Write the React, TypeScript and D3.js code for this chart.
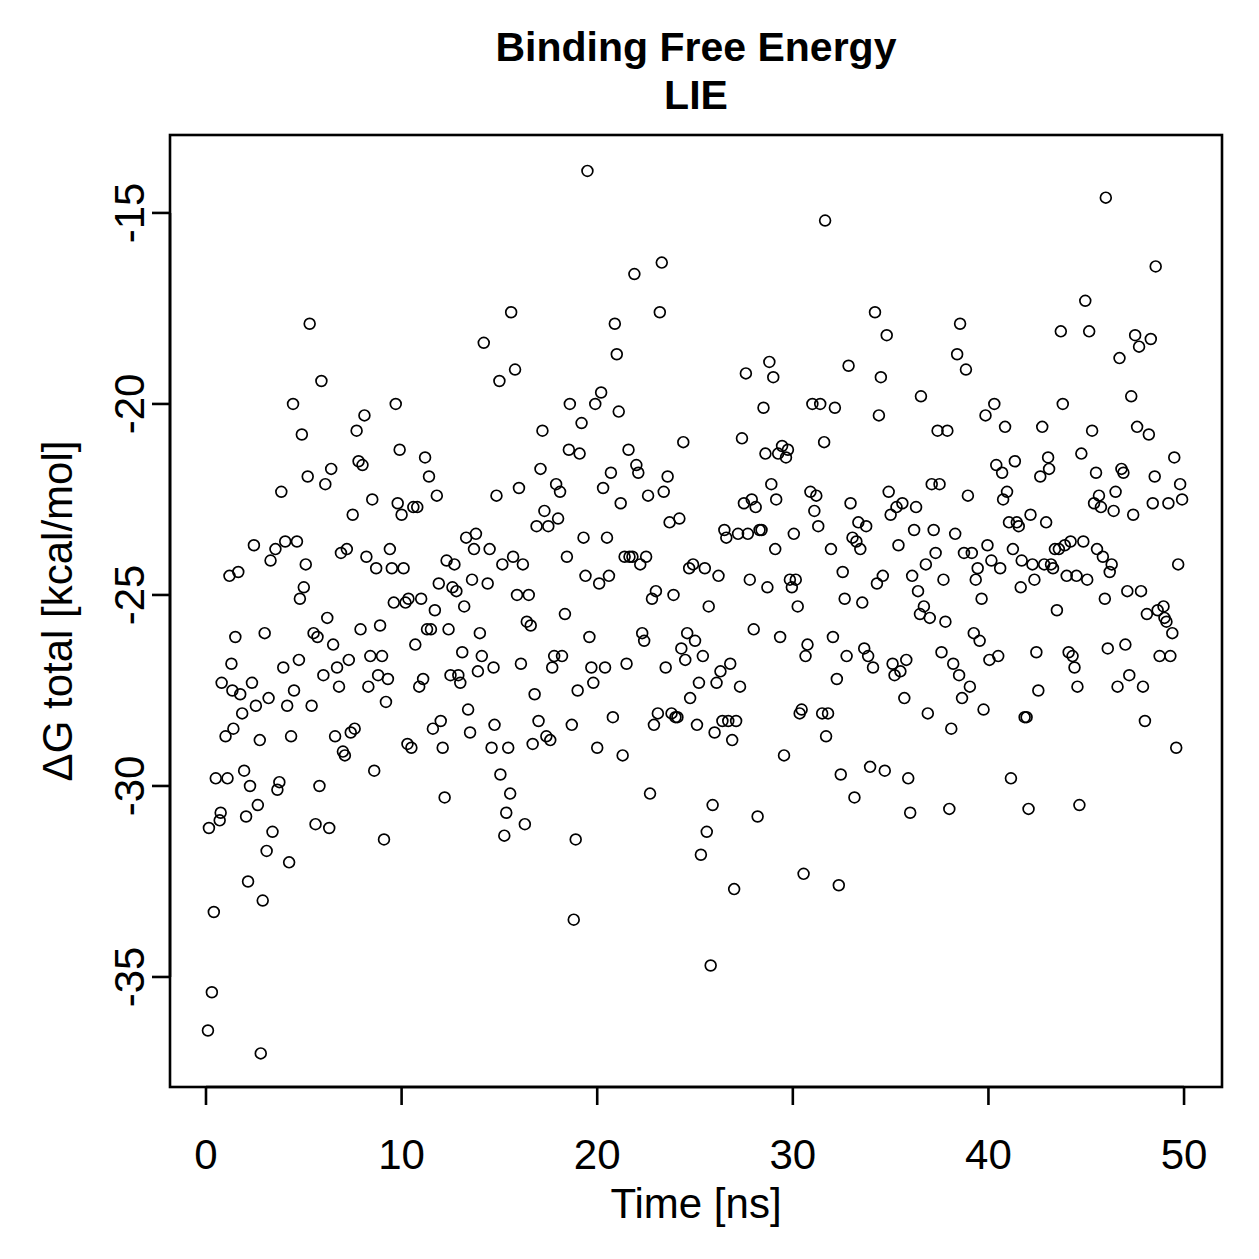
import React from 'react'
import { scaleLinear } from 'd3'

// simulation time [ns]
const timeNs = [
  0.1, 0.3, 0.4, 0.15, 0.5, 0.7, 0.75, 0.8, 1.0, 1.1, 1.2, 1.3, 1.35, 1.4, 1.5, 1.65, 1.75, 1.85, 1.95, 2.05,
  2.15, 2.25, 2.35, 2.45, 2.55, 2.65, 2.75, 2.8, 2.9, 3.0, 3.1, 3.2, 3.3, 3.4, 3.55, 3.65, 3.75, 3.85, 3.95, 4.05,
  4.15, 4.25, 4.35, 4.45, 4.5, 4.65, 4.75, 4.8, 4.9, 5.0, 5.1, 5.2, 5.3, 5.4, 5.5, 5.6, 5.7, 5.8, 5.9, 6.0,
  6.1, 6.2, 6.3, 6.4, 6.5, 6.6, 6.7, 6.8, 6.9, 7.0, 7.1, 7.2, 7.3, 7.4, 7.5, 7.6, 7.7, 7.8, 7.9, 8.0,
  8.1, 8.2, 8.3, 8.4, 8.5, 8.6, 8.7, 8.8, 8.9, 9.0, 9.1, 9.2, 9.3, 9.4, 9.5, 9.6, 9.7, 9.8, 9.9, 10.0,
  10.1, 10.2, 10.3, 10.35, 10.5, 10.6, 10.7, 10.8, 10.9, 11.0, 11.1, 11.2, 11.3, 11.4, 11.5, 11.6, 11.7, 11.8, 11.9, 12.0,
  12.1, 12.2, 12.3, 12.4, 12.5, 12.6, 12.7, 12.8, 12.9, 13.0, 13.1, 13.2, 13.3, 13.4, 13.5, 13.6, 13.7, 13.8, 13.9, 14.0,
  14.1, 14.2, 14.4, 14.5, 14.6, 14.7, 14.75, 14.85, 15.0, 15.05, 15.15, 15.25, 15.35, 15.45, 15.55, 15.6, 15.7, 15.8, 15.9, 16.0,
  16.1, 16.2, 16.3, 16.4, 16.5, 16.6, 16.7, 16.8, 16.9, 17.0, 17.1, 17.2, 17.3, 17.4, 17.5, 17.6, 17.7, 17.8, 17.9, 18.0,
  18.1, 18.2, 18.35, 18.45, 18.55, 18.6, 18.7, 18.8, 18.9, 19.0, 19.1, 19.2, 19.3, 19.4, 19.5, 19.6, 19.7, 19.8, 19.9, 20.0,
  20.1, 20.2, 20.3, 20.4, 20.5, 20.6, 20.7, 20.8, 20.9, 21.0, 21.1, 21.2, 21.3, 21.4, 21.5, 21.6, 21.65, 21.8, 21.9, 22.0,
  22.1, 22.2, 22.3, 22.4, 22.5, 22.6, 22.7, 22.8, 22.9, 23.0, 23.1, 23.2, 23.3, 23.4, 23.5, 23.6, 23.7, 23.8, 23.9, 24.0,
  24.1, 24.2, 24.3, 24.4, 24.5, 24.6, 24.7, 24.75, 24.9, 25.0, 25.1, 25.2, 25.3, 25.4, 25.5, 25.6, 25.7, 25.8, 25.9, 26.0,
  26.1, 26.2, 26.3, 26.4, 26.5, 26.6, 26.7, 26.8, 26.9, 27.0, 27.1, 27.2, 27.3, 27.4, 27.5, 27.6, 27.7, 27.8, 27.9, 28.0,
  28.1, 28.2, 28.3, 28.4, 28.5, 28.6, 28.7, 28.8, 28.9, 29.0, 29.1, 29.15, 29.25, 29.35, 29.45, 29.55, 29.65, 29.75, 29.85, 29.95,
  30.05, 30.15, 30.25, 30.35, 30.45, 30.55, 30.65, 30.75, 30.9, 31.0, 31.1, 31.2, 31.3, 31.4, 31.5, 31.6, 31.65, 31.7, 31.8, 31.95,
  32.05, 32.15, 32.25, 32.35, 32.45, 32.55, 32.65, 32.75, 32.85, 32.95, 33.05, 33.15, 33.25, 33.35, 33.45, 33.55, 33.65, 33.75, 33.85, 33.95,
  34.1, 34.2, 34.3, 34.4, 34.5, 34.6, 34.7, 34.8, 34.9, 35.0, 35.1, 35.2, 35.3, 35.4, 35.5, 35.6, 35.7, 35.8, 35.9, 36.0,
  36.1, 36.2, 36.3, 36.4, 36.5, 36.55, 36.7, 36.8, 36.9, 37.0, 37.1, 37.2, 37.3, 37.4, 37.5, 37.6, 37.7, 37.8, 37.9, 38.0,
  38.1, 38.2, 38.3, 38.4, 38.5, 38.55, 38.65, 38.75, 38.85, 38.95, 39.05, 39.15, 39.25, 39.35, 39.45, 39.55, 39.65, 39.75, 39.85, 39.95,
  40.05, 40.15, 40.3, 40.4, 40.5, 40.6, 40.7, 40.75, 40.85, 40.95, 41.05, 41.15, 41.25, 41.35, 41.45, 41.55, 41.65, 41.7, 41.85, 41.95,
  42.05, 42.15, 42.25, 42.35, 42.45, 42.55, 42.65, 42.75, 42.85, 42.95, 43.05, 43.1, 43.2, 43.3, 43.4, 43.5, 43.6, 43.7, 43.8, 43.9,
  44.0, 44.1, 44.2, 44.3, 44.4, 44.5, 44.55, 44.65, 44.75, 44.85, 44.95, 45.05, 45.15, 45.3, 45.4, 45.5, 45.55, 45.65, 45.75, 45.85,
  45.95, 46.0, 46.1, 46.2, 46.3, 46.4, 46.5, 46.6, 46.7, 46.8, 46.9, 47.0, 47.1, 47.2, 47.3, 47.4, 47.5, 47.6, 47.7, 47.8,
  47.9, 48.0, 48.1, 48.2, 48.3, 48.4, 48.5, 48.55, 48.65, 48.75, 48.95, 49.0, 49.1, 49.2, 49.3, 49.4, 49.5, 49.6, 49.7, 49.8,
  49.9,
]

// LIE binding free energy [kcal/mol]
const deltaG = [
  -36.4, -35.4, -33.3, -31.1, -29.8, -30.9, -30.7, -27.3, -28.7, -29.8, -24.5, -26.8, -27.5, -28.5, -26.1, -24.4, -27.6, -28.1, -29.6, -30.8,
  -32.5, -30.0, -27.3, -23.7, -27.9, -30.5, -28.8, -37.0, -33.0, -26.0, -31.7, -27.7, -24.1, -31.2, -23.8, -30.1, -29.9, -22.3, -26.9, -23.6,
  -27.9, -32.0, -28.7, -20.0, -27.5, -23.6, -26.7, -25.1, -20.8, -24.8, -24.2, -21.9, -17.9, -27.9, -26.0, -31.0, -26.1, -30.0, -19.4, -27.1,
  -22.1, -25.6, -31.1, -21.7, -26.3, -28.7, -26.9, -27.4, -23.9, -29.1, -29.2, -23.8, -26.7, -28.6, -22.9, -28.5, -20.7, -21.5, -25.9, -21.6,
  -20.3, -24.0, -27.4, -26.6, -22.5, -29.6, -24.3, -27.1, -25.8, -26.6, -31.4, -27.8, -27.2, -23.8, -24.3, -25.2, -20.0, -22.6, -21.2, -22.9,
  -24.3, -25.2, -28.9, -25.1, -29.0, -22.7, -26.3, -22.7, -27.4, -25.1, -27.2, -21.4, -25.9, -21.9, -25.9, -28.5, -25.4, -22.4, -24.7, -28.3,
  -29.0, -30.3, -24.1, -25.9, -27.1, -24.8, -24.2, -24.9, -27.1, -27.3, -26.5, -25.3, -23.5, -28.0, -28.6, -24.6, -23.8, -23.4, -27.0, -26.0,
  -26.6, -18.4, -24.7, -23.8, -29.0, -26.9, -28.4, -22.4, -19.4, -29.7, -24.2, -31.3, -30.7, -29.0, -30.2, -17.6, -24.0, -19.1, -25.0, -22.2,
  -26.8, -24.2, -31.0, -25.7, -25.0, -25.8, -28.9, -27.6, -23.2, -28.3, -21.7, -20.7, -22.8, -28.7, -23.2, -28.8, -26.9, -26.6, -22.1, -23.0,
  -22.3, -26.6, -25.5, -24.0, -21.2, -20.0, -28.4, -33.5, -31.4, -27.5, -21.3, -20.5, -23.5, -24.5, -13.9, -26.1, -26.9, -27.3, -20.0, -29.0,
  -24.7, -19.7, -22.2, -26.9, -23.5, -24.5, -21.8, -28.2, -17.9, -18.7, -20.2, -22.6, -29.2, -24.0, -26.8, -21.2, -24.0, -24.0, -16.6, -21.6,
  -21.8, -24.2, -26.0, -26.2, -24.0, -22.4, -30.2, -25.1, -28.4, -24.9, -28.1, -17.6, -16.3, -22.3, -26.9, -21.9, -23.1, -28.1, -25.0, -28.2,
  -28.2, -23.0, -26.4, -21.0, -26.7, -26.0, -24.3, -27.7, -24.2, -26.2, -28.4, -27.3, -31.8, -26.6, -24.3, -31.2, -25.3, -34.7, -30.5, -28.6,
  -27.3, -24.5, -27.0, -28.3, -23.3, -23.5, -28.3, -26.8, -28.8, -32.7, -28.3, -23.4, -27.4, -20.9, -22.6, -19.2, -23.4, -24.6, -22.5, -25.9,
  -22.7, -30.8, -23.3, -23.3, -20.1, -21.3, -24.8, -18.9, -22.1, -19.3, -23.8, -22.5, -21.3, -26.1, -21.1, -29.2, -21.4, -21.2, -24.6, -24.8,
  -23.4, -24.6, -25.3, -28.1, -28.0, -32.3, -26.6, -26.3, -22.3, -20.0, -22.8, -22.4, -23.2, -20.0, -28.1, -21.0, -15.2, -28.7, -28.1, -23.8,
  -26.1, -20.1, -27.2, -32.6, -29.7, -24.4, -25.1, -26.6, -19.0, -22.6, -23.5, -30.3, -23.6, -23.1, -23.8, -25.2, -26.4, -23.2, -26.6, -29.5,
  -26.9, -17.6, -24.7, -20.3, -19.3, -24.5, -29.6, -18.2, -22.3, -22.9, -26.8, -27.1, -22.7, -23.7, -27.0, -22.6, -27.7, -26.7, -29.8, -30.7,
  -24.5, -23.3, -22.7, -24.9, -25.5, -19.8, -25.3, -24.2, -28.1, -25.6, -22.1, -23.3, -23.9, -20.7, -22.1, -26.5, -24.6, -25.7, -20.7, -30.6,
  -28.5, -26.8, -23.4, -18.7, -27.1, -17.9, -27.7, -23.9, -19.1, -22.4, -27.4, -23.9, -26.0, -24.6, -24.3, -26.2, -25.1, -28.0, -20.3, -23.7,
  -26.7, -24.1, -20.0, -21.6, -26.6, -24.3, -21.8, -22.5, -20.6, -22.3, -23.1, -29.8, -23.8, -21.5, -23.1, -23.2, -24.8, -24.1, -28.2, -28.2,
  -30.6, -22.9, -24.2, -24.6, -26.5, -27.5, -21.9, -20.6, -24.2, -23.1, -21.4, -21.7, -24.2, -24.3, -23.8, -25.4, -23.8, -18.1, -20.0, -23.7,
  -24.5, -26.5, -23.6, -26.6, -26.9, -24.5, -27.4, -30.5, -21.3, -23.6, -17.3, -24.6, -18.1, -20.7, -22.6, -21.8, -23.8, -22.4, -22.7, -24.0,
  -25.1, -14.6, -26.4, -24.4, -24.2, -22.8, -22.3, -27.4, -18.8, -21.7, -21.8, -26.3, -24.9, -27.1, -19.8, -22.9, -18.2, -20.6, -18.5, -24.9,
  -27.4, -28.3, -25.5, -20.8, -18.3, -22.6, -21.9, -16.4, -25.4, -26.6, -25.3, -25.6, -25.7, -22.6, -26.6, -26.0, -21.4, -29.0, -24.2, -22.1,
  -22.5,
]

const xTicks = [0, 10, 20, 30, 40, 50]
const yTicks = [-35, -30, -25, -20, -15]

const W = 1259
const H = 1259
const box = { left: 170, right: 1222, top: 135, bottom: 1087 }
const font = "'Liberation Sans', Arial, Helvetica, sans-serif"
const labelSize = 42

export default function App() {
  const x = scaleLinear().domain([-1.84, 51.94]).range([box.left, box.right])
  const y = scaleLinear().domain([-37.88, -12.96]).range([box.bottom, box.top])
  const tick = 18
  const cx = (box.left + box.right) / 2

  return (
    <svg width={W} height={H} style={{ position: 'absolute', left: 0, top: 0, background: '#fff' }}
      fontFamily={font}>
      <rect x={0} y={0} width={W} height={H} fill="#fff" />

      {/* title */}
      <text x={cx} y={61} textAnchor="middle" fontSize={41} fontWeight="bold">Binding Free Energy</text>
      <text x={cx} y={109} textAnchor="middle" fontSize={41} fontWeight="bold">LIE</text>

      {/* points */}
      <g fill="none" stroke="#000" strokeWidth={1.7}>
        {timeNs.map((t, i) => (
          <circle key={i} cx={x(t)} cy={y(deltaG[i])} r={5.4} />
        ))}
      </g>

      {/* plot frame */}
      <rect x={box.left} y={box.top} width={box.right - box.left} height={box.bottom - box.top}
        fill="none" stroke="#000" strokeWidth={2.6} />

      {/* x axis */}
      <g stroke="#000" strokeWidth={2.6}>
        <line x1={x(xTicks[0])} x2={x(xTicks[xTicks.length - 1])} y1={box.bottom} y2={box.bottom} />
        {xTicks.map(v => (
          <line key={v} x1={x(v)} x2={x(v)} y1={box.bottom} y2={box.bottom + tick} />
        ))}
      </g>
      {xTicks.map(v => (
        <text key={v} x={x(v)} y={1169} textAnchor="middle" fontSize={labelSize}>{v}</text>
      ))}
      <text x={cx} y={1218} textAnchor="middle" fontSize={labelSize}>Time [ns]</text>

      {/* y axis */}
      <g stroke="#000" strokeWidth={2.6}>
        <line x1={box.left} x2={box.left} y1={y(yTicks[0])} y2={y(yTicks[yTicks.length - 1])} />
        {yTicks.map(v => (
          <line key={v} x1={box.left - tick} x2={box.left} y1={y(v)} y2={y(v)} />
        ))}
      </g>
      {yTicks.map(v => (
        <text key={v} transform={`translate(144, ${y(v)}) rotate(-90)`} textAnchor="middle" fontSize={labelSize}>{v}</text>
      ))}
      <text transform={`translate(72, ${(box.top + box.bottom) / 2}) rotate(-90)`} textAnchor="middle" fontSize={labelSize}>
        ΔG total [kcal/mol]
      </text>
    </svg>
  )
}
